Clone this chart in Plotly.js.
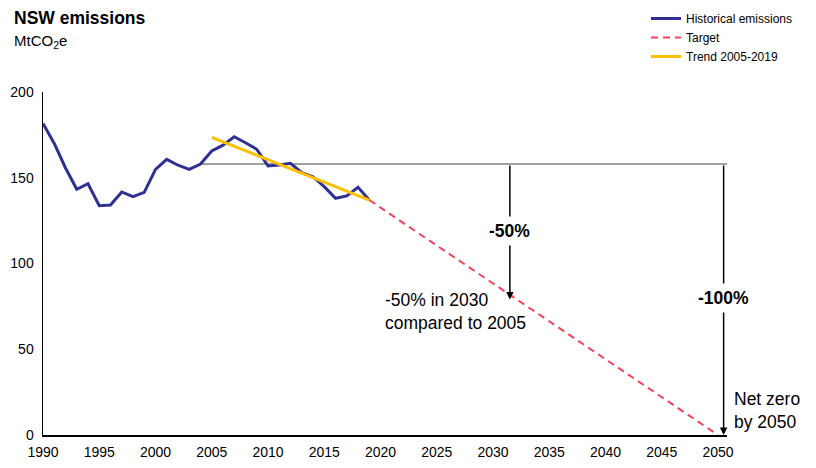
<!DOCTYPE html>
<html>
<head>
<meta charset="utf-8">
<script src="https://cdn.plot.ly/plotly-3.0.1.min.js"></script>
<style>html,body{margin:0;padding:0;background:#fff;}#chart{width:816px;height:468px;}</style>
</head>
<body>
<div id="chart"></div>
<script>
const histYears = [1990,1991,1992,1993,1994,1995,1996,1997,1998,1999,2000,2001,2002,2003,2004,2005,2006,2007,2008,2009,2010,2011,2012,2013,2014,2015,2016,2017,2018,2019];
const histValues = [181.7,170,155.7,143.3,146.5,133.7,134.1,141.7,139,141.5,154.9,160.7,157.3,154.9,158,165.6,169,173.9,170.4,166.6,156.9,157.4,158.4,153,150.6,144.8,138,139.4,144.4,137];
const trendYears = [2005, 2019];
const trendValues = [173.6, 137];
const targetYears = [2019, 2050];
const targetValues = [137, 0];
const baselineValue = 158;
const target2030Value = 79;
const xTicks = [1990,1995,2000,2005,2010,2015,2020,2025,2030,2035,2040,2045,2050];
const yTicks = [0,50,100,150,200];

const FONT = "Liberation Sans, Arial, sans-serif";
const PLOT_L = 43, PLOT_W = 684, PLOT_T = 92, PLOT_H = 343;
const px2paperX = (px) => (px - PLOT_L) / PLOT_W;
const px2paperY = (py) => (PLOT_T + PLOT_H - py) / PLOT_H;

const traces = [
  {x: histYears, y: histValues, type: 'scatter', mode: 'lines', name: 'Historical emissions',
   line: {color: '#2E3192', width: 3}},
  {x: targetYears, y: targetValues, type: 'scatter', mode: 'lines', name: 'Target',
   line: {color: '#F2415A', width: 2, dash: '7px,5px'}},
  {x: trendYears, y: trendValues, type: 'scatter', mode: 'lines', name: 'Trend 2005-2019',
   line: {color: '#FFC000', width: 3}}
];

const layout = {
  width: 816, height: 468,
  margin: {l: PLOT_L, r: 816 - PLOT_L - PLOT_W, t: PLOT_T, b: 468 - PLOT_T - PLOT_H, autoexpand: false},
  paper_bgcolor: '#fff', plot_bgcolor: '#fff',
  font: {family: FONT, size: 13, color: '#000'},
  showlegend: true,
  hovermode: false,
  legend: {
    x: px2paperX(646), xanchor: 'left', y: px2paperY(4), yanchor: 'top',
    font: {family: FONT, size: 12, color: '#000'},
    itemwidth: 30, tracegroupgap: 0, bgcolor: 'rgba(0,0,0,0)'
  },
  xaxis: {
    range: [1990, 2050.8], tickmode: 'array', tickvals: xTicks, ticktext: xTicks.map(String),
    showgrid: false, zeroline: false, showline: true, linecolor: '#000', linewidth: 1.5,
    ticks: '', ticklabelstandoff: 4, tickfont: {family: FONT, size: 14, color: '#000'}, fixedrange: true
  },
  yaxis: {
    range: [0, 200], tickmode: 'array', tickvals: yTicks, ticktext: yTicks.map(String),
    showgrid: false, zeroline: false, showline: true, linecolor: '#000', linewidth: 1.5,
    ticks: '', ticklabelstandoff: 5, tickfont: {family: FONT, size: 14, color: '#000'}, fixedrange: true
  },
  shapes: [
    {type: 'line', xref: 'x', yref: 'y', x0: 2004, x1: 2050.8, y0: baselineValue, y1: baselineValue,
     line: {color: '#808080', width: 1.5}, layer: 'below'}
  ],
  annotations: [
    {xref: 'paper', yref: 'paper', x: px2paperX(12), y: px2paperY(18), xanchor: 'left', yanchor: 'middle',
     text: '<b>NSW emissions</b>', showarrow: false, font: {family: FONT, size: 17.5, color: '#000'}},
    {xref: 'paper', yref: 'paper', x: px2paperX(12), y: px2paperY(41), xanchor: 'left', yanchor: 'middle',
     text: 'MtCO<sub>2</sub>e', showarrow: false, font: {family: FONT, size: 15, color: '#000'}},
    {xref: 'x', yref: 'y', x: 2031.5, y: target2030Value, axref: 'x', ayref: 'y', ax: 2031.5, ay: baselineValue,
     text: '', showarrow: true, arrowhead: 2, arrowsize: 1, arrowwidth: 1.5, arrowcolor: '#000', standoff: 0},
    {xref: 'x', yref: 'y', x: 2050.5, y: 0, axref: 'x', ayref: 'y', ax: 2050.5, ay: baselineValue,
     text: '', showarrow: true, arrowhead: 2, arrowsize: 1, arrowwidth: 1.5, arrowcolor: '#000', standoff: 0},
    {xref: 'x', yref: 'y', x: 2031.5, y: 119, text: '<b>-50%</b>', showarrow: false,
     font: {family: FONT, size: 17.5, color: '#000'}, bgcolor: '#fff', borderpad: 4},
    {xref: 'x', yref: 'y', x: 2050.5, y: 80, text: '<b>-100%</b>', showarrow: false,
     font: {family: FONT, size: 17.5, color: '#000'}, bgcolor: '#fff', borderpad: 4},
    {xref: 'x', yref: 'y', x: 2020.2, y: 72.3, xanchor: 'left', yanchor: 'middle', align: 'left',
     text: '-50% in 2030<br>compared to 2005', showarrow: false,
     font: {family: FONT, size: 17.5, color: '#000'}},
    {xref: 'paper', yref: 'paper', x: px2paperX(732), y: px2paperY(410), xanchor: 'left', yanchor: 'middle', align: 'left',
     text: 'Net zero<br>by 2050', showarrow: false,
     font: {family: FONT, size: 17.5, color: '#000'}}
  ]
};

Plotly.newPlot('chart', traces, layout, {staticPlot: true, displayModeBar: false});
</script>
</body>
</html>
